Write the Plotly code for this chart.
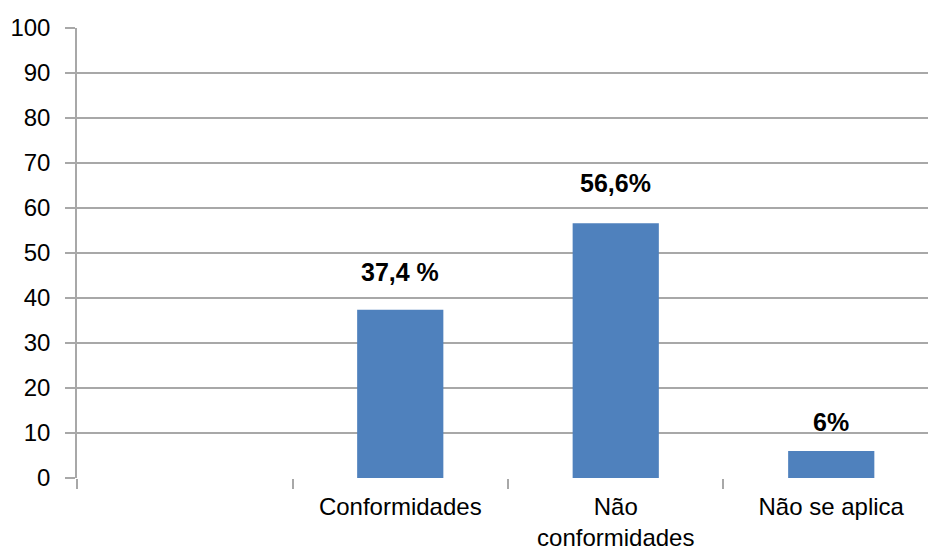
import plotly.graph_objects as go

# Category slots (the first slot is intentionally left empty)
categories = [" ", "Conformidades", "Não<br>conformidades", "Não se aplica"]
values = [None, 37.4, 56.6, 6]
value_labels = [None, "37,4 %", "56,6%", "6%"]
y_ticks = [0, 10, 20, 30, 40, 50, 60, 70, 80, 90, 100]

BAR_COLOR = "#4F81BD"
GRID_COLOR = "#A8A8A8"
FONT = "Liberation Sans, Arial, sans-serif"

fig = go.Figure(
    go.Bar(
        x=categories,
        y=values,
        width=0.4,
        marker=dict(color=BAR_COLOR, line=dict(width=0)),
        hoverinfo="skip",
    )
)

# bold value labels above the bars
label_offset = {1: 22, 2: 24, 3: 13}
for i, (cat, val, lab) in enumerate(zip(categories, values, value_labels)):
    if val is None:
        continue
    fig.add_annotation(
        x=cat, y=val, text=f"<b>{lab}</b>", showarrow=False,
        yanchor="bottom", yshift=label_offset[i],
        font=dict(family=FONT, size=25, color="#000000"),
    )

fig.update_layout(
    width=928, height=552,
    margin=dict(l=77, r=0, t=28, b=74, pad=0, autoexpand=False),
    paper_bgcolor="white", plot_bgcolor="white",
    showlegend=False,
    bargap=0.6,
    font=dict(family=FONT, color="#000000"),
)

fig.update_xaxes(
    type="category",
    categoryorder="array", categoryarray=categories,
    range=[-0.5, 3.449],
    tickson="boundaries",
    ticks="outside", ticklen=10, tickwidth=1.5, tickcolor=GRID_COLOR,
    showgrid=False, zeroline=False,
    showline=False,
    automargin=False,
    ticklabelstandoff=12,
    tickfont=dict(family=FONT, size=24, color="#000000"),
)

fig.update_yaxes(
    range=[0, 100],
    tickvals=y_ticks,
    ticks="outside", ticklen=10, tickwidth=1.5, tickcolor=GRID_COLOR,
    showgrid=True, gridcolor=GRID_COLOR, gridwidth=1.5,
    zeroline=False,
    showline=True, linecolor=GRID_COLOR, linewidth=1.5,
    automargin=False,
    ticklabelstandoff=10,
    tickfont=dict(family=FONT, size=24, color="#000000"),
)

fig.write_html("out.html")
